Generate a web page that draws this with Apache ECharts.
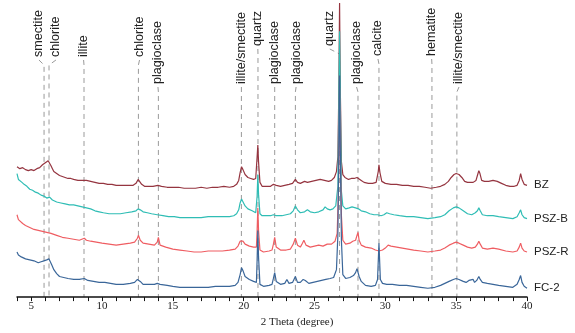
<!DOCTYPE html>
<html><head><meta charset="utf-8">
<script src="https://cdn.jsdelivr.net/npm/echarts@6/dist/echarts.min.js"></script>
<style>html,body{margin:0;padding:0;background:#fff}#c{width:575px;height:333px}</style>
</head><body><div id="c"></div>
<script>
// ---- data: [2θ (deg), stacked intensity (a.u.)] ----
const seriesNames = ['BZ', 'PSZ-B', 'PSZ-R', 'FC-2'];

const BZ = [[4.0,133],[4.2,131],[4.4,132],[4.6,130],[4.8,129],[5.0,130],[5.2,129],[5.4,131],[5.6,132],[5.8,135],[6.0,137],[6.1,138],[6.2,139],[6.3,137],[6.4,134],[6.5,131],[6.6,128],[6.8,126],[7.0,124],[7.2,123],[7.4,122],[7.6,121],[7.8,121],[8.0,120],[8.3,119],[8.6,119],[8.9,119],[9.2,118],[9.5,117],[9.8,116],[10.1,116],[10.4,115],[10.7,115],[11.0,114],[11.3,114],[11.6,114],[11.9,114],[12.2,114],[12.4,116],[12.55,120],[12.65,119],[12.8,115],[13.0,113],[13.3,113],[13.6,113],[13.95,114],[14.2,113],[14.6,112],[15.0,112],[15.4,112],[15.8,111],[16.2,111],[16.6,111],[17.0,112],[17.4,111],[17.8,112],[18.2,112],[18.6,113],[19.0,112],[19.3,113],[19.5,115],[19.65,119],[19.75,127],[19.85,133],[19.95,130],[20.1,125],[20.3,122],[20.5,121],[20.7,120],[20.85,121],[20.95,143],[21.0,155],[21.05,138],[21.15,117],[21.3,113],[21.6,113],[21.9,113],[22.1,115],[22.2,117],[22.3,114],[22.6,113],[22.9,114],[23.2,115],[23.45,116],[23.65,120],[23.8,117],[24.0,116],[24.3,118],[24.5,117],[24.8,118],[25.1,119],[25.4,120],[25.7,119],[26.0,118],[26.2,119],[26.4,122],[26.55,128],[26.65,143],[26.72,213],[26.77,300],[26.82,213],[26.9,138],[27.0,125],[27.15,122],[27.4,120],[27.6,121],[27.8,121],[28.0,122],[28.1,122],[28.3,119],[28.5,117],[28.8,116],[29.1,116],[29.35,117],[29.5,128],[29.55,135],[29.62,127],[29.75,118],[30.0,116],[30.4,115],[30.8,115],[31.2,114],[31.6,114],[32.0,113],[32.4,113],[32.8,112],[33.2,111],[33.6,112],[33.9,113],[34.2,115],[34.45,118],[34.65,122],[34.85,125],[35.0,126],[35.2,125],[35.4,122],[35.6,118],[35.8,117],[36.0,117],[36.2,117],[36.4,119],[36.52,125],[36.6,129],[36.68,126],[36.8,119],[37.0,118],[37.3,118],[37.6,119],[37.9,118],[38.2,116],[38.5,114],[38.8,113],[39.1,113],[39.3,114],[39.45,119],[39.55,126],[39.65,120],[39.8,115],[40.0,114]];

const PSZ_B = [[4.0,126],[4.1,120],[4.2,122],[4.35,117],[4.5,115],[4.7,113],[4.9,110],[5.1,109],[5.3,107],[5.5,106],[5.7,104],[5.9,103],[6.1,101],[6.3,102],[6.5,99],[6.8,97],[7.1,96],[7.4,95],[7.7,94],[8.0,94],[8.3,93],[8.6,92],[8.9,91],[9.2,90],[9.5,88],[9.8,87],[10.1,86],[10.5,85],[10.9,85],[11.3,85],[11.7,86],[12.1,87],[12.4,88],[12.55,90],[12.7,89],[12.9,87],[13.2,86],[13.5,85],[13.9,84],[14.3,83],[14.7,82],[15.1,82],[15.5,81],[16.0,81],[16.5,81],[17.0,81],[17.5,82],[18.0,82],[18.5,82],[19.0,82],[19.3,83],[19.5,85],[19.65,89],[19.75,96],[19.85,100],[19.95,98],[20.1,93],[20.3,90],[20.6,88],[20.85,86],[20.95,103],[21.0,125],[21.05,105],[21.15,85],[21.3,83],[21.6,83],[21.9,83],[22.1,84],[22.2,86],[22.3,83],[22.7,83],[23.0,84],[23.3,85],[23.5,88],[23.65,93],[23.8,89],[24.0,86],[24.3,87],[24.5,89],[24.7,87],[25.0,86],[25.3,87],[25.6,89],[25.75,92],[25.9,90],[26.1,89],[26.3,90],[26.5,93],[26.65,113],[26.72,203],[26.77,271],[26.82,203],[26.9,108],[27.0,93],[27.2,90],[27.45,91],[27.65,92],[27.75,94],[27.9,91],[28.1,90],[28.3,88],[28.6,87],[28.9,85],[29.2,84],[29.45,84],[29.55,86],[29.7,83],[29.9,84],[30.1,86],[30.3,85],[30.6,84],[31.0,83],[31.5,82],[32.0,82],[32.5,81],[33.0,80],[33.5,81],[33.9,82],[34.2,84],[34.5,88],[34.8,91],[35.0,92],[35.2,91],[35.5,88],[35.8,85],[36.1,84],[36.35,86],[36.5,88],[36.6,91],[36.7,88],[36.85,84],[37.2,83],[37.6,83],[38.0,82],[38.5,81],[39.0,80],[39.3,82],[39.45,86],[39.55,89],[39.65,84],[39.8,81],[40.0,80]];

const PSZ_R = [[4.0,84],[4.1,79],[4.2,77],[4.4,75],[4.6,73],[4.9,71],[5.2,69],[5.5,68],[5.8,67],[6.1,66],[6.4,65],[6.8,63],[7.2,61],[7.6,60],[8.0,59],[8.4,58],[8.75,60],[8.9,58],[9.2,57],[9.6,56],[10.0,55],[10.5,54],[11.0,53],[11.5,54],[12.0,55],[12.3,56],[12.5,60],[12.57,63],[12.7,58],[12.9,55],[13.3,54],[13.7,53],[13.9,56],[13.98,61],[14.1,53],[14.5,51],[15.0,49],[15.5,48],[16.0,47],[16.5,46],[17.0,46],[17.5,47],[18.0,47],[18.5,47],[19.0,48],[19.4,49],[19.6,52],[19.75,57],[19.85,58],[19.95,57],[20.1,54],[20.4,52],[20.7,51],[20.9,51],[20.95,68],[21.0,91],[21.05,68],[21.15,48],[21.4,46],[21.8,47],[22.0,48],[22.1,54],[22.19,61],[22.3,51],[22.6,48],[23.0,48],[23.3,49],[23.5,54],[23.65,60],[23.8,53],[24.0,51],[24.15,55],[24.25,58],[24.4,53],[24.7,51],[25.0,52],[25.3,53],[25.6,52],[25.9,54],[26.2,54],[26.45,57],[26.6,65],[26.68,103],[26.73,153],[26.77,213],[26.82,153],[26.9,83],[27.0,58],[27.2,54],[27.5,55],[27.7,57],[27.9,58],[28.0,63],[28.07,66],[28.15,58],[28.3,53],[28.6,51],[29.0,50],[29.3,48],[29.55,47],[29.8,48],[30.0,50],[30.2,53],[30.4,52],[30.8,51],[31.2,50],[31.6,49],[32.0,48],[32.5,47],[33.0,46],[33.5,47],[33.9,48],[34.2,50],[34.5,53],[34.8,55],[35.0,56],[35.2,55],[35.5,53],[35.8,51],[36.1,50],[36.35,51],[36.5,54],[36.6,57],[36.7,54],[36.85,50],[37.2,49],[37.6,50],[38.0,49],[38.5,47],[39.0,46],[39.3,47],[39.45,51],[39.55,55],[39.65,50],[39.8,47],[40.0,46]];

const FC_2 = [[4.0,46],[4.1,43],[4.3,41],[4.6,39],[4.9,38],[5.2,37],[5.5,35],[5.7,36],[5.9,37],[6.1,38],[6.25,39],[6.35,37],[6.45,33],[6.6,28],[6.8,24],[7.0,21],[7.3,20],[7.6,19],[8.0,18],[8.4,18],[8.75,19],[9.0,17],[9.4,16],[9.8,15],[10.2,15],[10.6,14],[11.0,13],[11.5,13],[12.0,14],[12.3,15],[12.5,18],[12.57,20],[12.7,16],[12.9,13],[13.3,13],[13.7,13],[13.9,14],[13.98,16],[14.1,13],[14.6,12],[15.0,11],[15.5,10],[16.0,10],[16.5,10],[17.0,10],[17.5,10],[18.0,11],[18.5,11],[19.0,11],[19.4,12],[19.6,15],[19.75,23],[19.85,30],[19.95,27],[20.1,21],[20.4,18],[20.7,16],[20.9,15],[20.95,38],[21.0,68],[21.05,41],[21.15,13],[21.4,11],[21.8,12],[22.0,13],[22.1,19],[22.19,25],[22.3,16],[22.6,13],[22.9,14],[23.05,18],[23.12,20],[23.2,14],[23.45,15],[23.65,21],[23.8,15],[24.0,15],[24.2,18],[24.35,17],[24.6,14],[24.9,15],[25.2,16],[25.5,17],[25.8,18],[26.1,19],[26.35,20],[26.55,28],[26.65,63],[26.72,153],[26.77,226],[26.82,153],[26.9,58],[27.0,23],[27.2,19],[27.5,20],[27.75,22],[27.9,25],[28.0,29],[28.07,31],[28.15,21],[28.3,16],[28.6,12],[29.0,11],[29.3,12],[29.45,18],[29.55,55],[29.65,18],[29.8,14],[30.1,13],[30.5,13],[31.0,12],[31.5,12],[32.0,11],[32.5,10],[33.0,9],[33.5,10],[33.9,12],[34.2,14],[34.5,16],[34.8,18],[35.0,19],[35.2,18],[35.5,16],[35.7,15],[35.9,17],[36.0,16],[36.2,18],[36.3,15],[36.45,17],[36.6,21],[36.7,18],[36.85,15],[37.2,14],[37.6,13],[38.0,12],[38.5,11],[39.0,10],[39.3,13],[39.45,18],[39.55,22],[39.65,15],[39.8,11],[40.0,9]];

const seriesData = [BZ, PSZ_B, PSZ_R, FC_2];

const mineralNames = ['smectite','chlorite','illite','chlorite','plagioclase','illite/smectite','quartz','plagioclase','plagioclase','quartz','plagioclase','calcite','hematite','illite/smectite'];
const mineralTheta = [5.91, 6.26, 8.73, 12.57, 13.98, 19.84, 21.01, 22.19, 23.65, 26.77, 28.07, 29.55, 33.29, 35.05];

const xMin = 4, xMax = 40, xStep = 1, xLabelStep = 5;

// ---- layout / style (not data) ----
const labelTheta = [5.55, 6.75, 8.7, 12.65, 13.95, 19.84, 21.0, 22.19, 23.7, 26.08, 27.97, 29.48, 33.27, 35.2];
const labelBottom = [57, 57, 57, 57, 84, 84, 46, 84, 84, 46, 84, 56, 56, 84];
const seriesColors = ['#953540', '#2fbdb5', '#ef5d62', '#3a6699'];

const chart = echarts.init(document.getElementById('c'), null, {renderer: 'canvas'});
chart.setOption({
  animation: false,
  backgroundColor: '#fff',
  grid: {left: 17, right: 48, top: 0, bottom: 30},
  xAxis: {
    type: 'value', min: xMin, max: xMax, interval: xStep,
    name: '2 Theta (degree)', nameLocation: 'middle', nameGap: 14,
    nameTextStyle: {fontFamily: 'Liberation Serif', fontSize: 11, color: '#222', padding: [0, 0, 0, 50]},
    axisLine: {lineStyle: {color: '#111', width: 1.5}},
    axisTick: {length: 4, lineStyle: {color: '#111', width: 1}},
    axisLabel: {
      margin: 4, fontFamily: 'Liberation Serif', fontSize: 11, color: '#222',
      formatter: v => (v % xLabelStep === 0 && v !== xMin) ? String(v) : ''
    },
    splitLine: {show: false}
  },
  yAxis: {type: 'value', min: 0, max: 303, show: false, splitLine: {show: false}},
  series: seriesNames.map((n, i) => ({
    name: n, type: 'line', data: seriesData[i], symbol: 'none',
    lineStyle: {width: 1.2, color: seriesColors[i]},
    itemStyle: {color: seriesColors[i]},
    endLabel: {show: true, formatter: '{a}', distance: 7, color: '#222',
      fontFamily: 'Liberation Sans', fontSize: 11.5},
    z: 2 + i
  }))
});

const axisY = chart.convertToPixel({yAxisIndex: 0}, 0);
const graphics = [];
mineralNames.forEach((name, i) => {
  const mx = chart.convertToPixel({xAxisIndex: 0}, mineralTheta[i]);
  const lx = chart.convertToPixel({xAxisIndex: 0}, labelTheta[i]);
  const b = labelBottom[i];
  graphics.push({
    type: 'polyline', silent: true, z: 0,
    shape: {points: [[lx, b + 3], [mx, b + 8], [mx, axisY]]},
    style: {stroke: '#9a9a9a', lineWidth: 1, lineDash: [5, 4], fill: null}
  });
  graphics.push({
    type: 'text', silent: true, z: 10,
    x: lx, y: b, rotation: Math.PI / 2,
    style: {text: name, font: '12.6px "Liberation Sans"', fill: '#222', align: 'left', verticalAlign: 'middle'}
  });
});
chart.setOption({graphic: graphics});
</script>
</body></html>
